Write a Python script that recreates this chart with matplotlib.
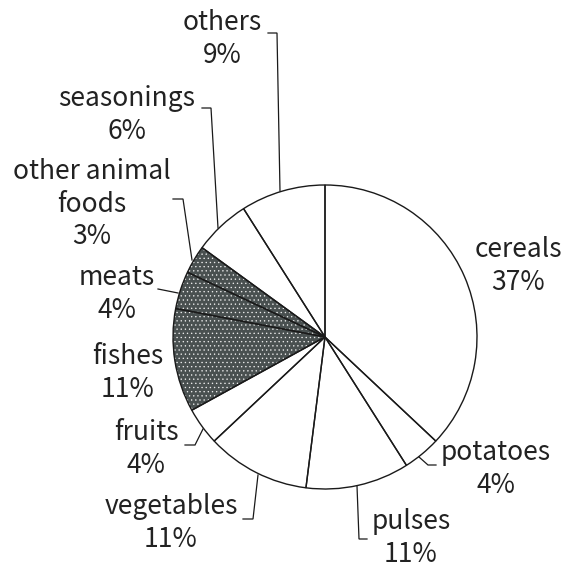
import matplotlib
matplotlib.use("Agg")
import matplotlib.pyplot as plt

plt.rcParams['font.family'] = ['Noto Sans CJK JP', 'DejaVu Sans']
plt.rcParams['hatch.linewidth'] = 0.45

# Share of food groups
categories = ["cereals", "potatoes", "pulses", "vegetables", "fruits",
              "fishes", "meats", "other animal\nfoods", "seasonings", "others"]
shares = [37, 4, 11, 11, 4, 11, 4, 3, 6, 9]
animal = [False, False, False, False, False, True, True, True, False, False]

# Label layout in pixels (block centre) and leader polylines in pixels
label_pos = [(518, 266), (496, 469), (411, 538), (171, 523), (146, 449),
             (128, 373), (117, 294), (92, 204), (127, 115), (222, 39)]
leaders = [None,
           [(436, 465), (428, 465), (419, 457)],
           [(367, 539), (359, 539), (357, 486)],
           [(243, 519), (253, 519), (258, 475)],
           [(185, 445), (195, 445), (203, 429)],
           None,
           [(158, 289), (178, 293)],
           [(173, 199), (183, 199), (192, 260)],
           [(202, 108), (211, 108), (218, 228)],
           [(268, 33), (277, 33), (280, 191)]]

W, H = 572, 567
CX, CY, R = 325, 337, 152

fig = plt.figure(figsize=(W / 100, H / 100), dpi=100)
ax = fig.add_axes([0, 0, 1, 1])
ax.axis("off")


def px(x, y):
    return (x - CX) / R, (CY - y) / R


# Filled wedges: animal foods get a dark dotted fill
wedges, _ = ax.pie(shares, startangle=90, counterclock=False, radius=1,
                   colors=["#495050" if a else "white" for a in animal],
                   wedgeprops=dict(linewidth=0))
for w, a in zip(wedges, animal):
    if a:
        w.set_hatch("....")
        w.set_edgecolor("#ececec")

# Outlines on top
outline, _ = ax.pie(shares, startangle=90, counterclock=False, radius=1,
                    wedgeprops=dict(fill=False, linewidth=1.0, edgecolor="#1a1a1a"))
ax.set_xlim(-CX / R, (W - CX) / R)
ax.set_ylim(-(H - CY) / R, CY / R)
ax.set_aspect("auto")

for name, val, pos, ld in zip(categories, shares, label_pos, leaders):
    x, y = px(*pos)
    ax.text(x, y, f"{name}\n{val}%", ha="center", va="center", fontsize=19,
            linespacing=1.27, color="#222222", multialignment="center")
    if ld:
        xs, ys = zip(*[px(*p) for p in ld])
        ax.plot(xs, ys, color="#1a1a1a", lw=0.9, solid_joinstyle="miter")

fig.savefig("out.png", dpi=100)
